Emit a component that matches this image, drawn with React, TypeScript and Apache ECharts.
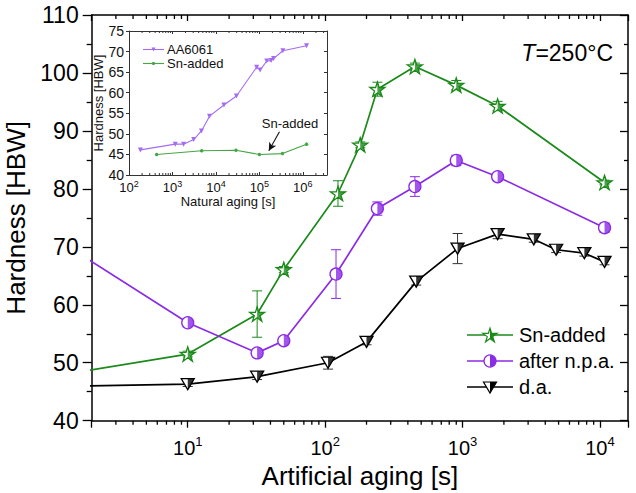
import React, { useEffect, useRef } from 'react';
import * as echarts from 'echarts';

// ---------- data ----------
const snTime = [1, 10, 32, 50, 124, 180, 240, 450, 900, 1800, 10800];
const snHard = [47.6, 51.5, 58.4, 66.1, 79.2, 87.6, 97.2, 101.1, 97.9, 94.3, 81.1];
const snErr = [0, 0.5, 4.0, 0.5, 2.2, 0.5, 1.2, 0.6, 0.8, 0.8, 0.4];

const npaTime = [1, 10, 32, 50, 120, 240, 450, 900, 1800, 10800];
const npaHard = [72.0, 56.9, 51.7, 53.8, 65.3, 76.6, 80.4, 84.9, 82.1, 73.3];
const npaErr = [0, 0.5, 0.5, 0.4, 4.2, 1.15, 1.7, 0.9, 0.4, 0.8];

const daTime = [1, 10, 32, 105, 200, 460, 920, 1800, 3300, 4800, 7700, 10800];
const daHard = [45.9, 46.3, 47.6, 50.0, 53.6, 64.0, 69.7, 72.2, 71.3, 69.5, 68.9, 67.4];
const daErr = [0, 0.4, 0.5, 1.1, 0.5, 0.6, 2.6, 0.8, 0.5, 0.5, 0.5, 0.5];

// inset: natural aging
const aaTime = [183, 1160, 1800, 3080, 4650, 7130, 15300, 29700, 86500, 104000, 148000, 186000, 212000, 347000, 1220000];
const aaHard = [46.1, 47.5, 47.5, 48.6, 50.7, 54.3, 57.0, 59.2, 66.2, 65.5, 67.7, 67.8, 68.3, 70.2, 71.4];
const snNaTime = [433, 4700, 29000, 100000, 340000, 1220000];
const snNaHard = [45.0, 45.9, 46.0, 45.0, 45.2, 47.5];

const legendNames = ['Sn-added', 'after n.p.a.', 'd.a.'];
const insetLegendNames = ['AA6061', 'Sn-added'];

// ---------- styling ----------
const FONT = '"Liberation Sans", Arial, Helvetica, sans-serif';
const GREEN = '#1b8a1b';
const PURPLE = '#8b2be6';
const BLACK = '#000000';
const PURPLE_L = '#a46cf2';
const GREEN_L = '#44a744';

const STAR = 'path://M10,0 L12.245,6.91 L19.51,6.91 L13.63,11.18 L15.88,18.09 L10,13.82 L4.12,18.09 L6.37,11.18 L0.49,6.91 L7.755,6.91 Z';
const STAR_R = 'path://M10,0 L12.245,6.91 L19.51,6.91 L13.63,11.18 L15.88,18.09 L10,13.82 Z';
const CIRC_R = 'path://M0,0 A10,10 0 0,1 0,20 Z';
const TRI = 'path://M0,0 L20,0 L10,17 Z';
const TRI_R = 'path://M10,0 L20,0 L10,17 Z';

const pairs = (xs: number[], ys: number[]) => xs.map((x, i) => [x, ys[i]]);
const errData = (xs: number[], ys: number[], es: number[]) =>
  xs.map((x, i) => [x, ys[i] - es[i], ys[i] + es[i], es[i]]).filter((d) => d[3] > 0);

function minorLog(min: number, max: number) {
  const out: number[] = [];
  for (let k = -1; k < 8; k++) {
    for (let m = 2; m <= 9; m++) {
      const v = m * Math.pow(10, k);
      if (v > min * 1.0001 && v < max * 0.9999) out.push(v);
    }
  }
  return out;
}

const powLabel = (v: number) => {
  const l = Math.log10(v);
  const e = Math.round(l);
  return Math.abs(l - e) < 1e-6 ? `{b|10}{s|${e}}` : '';
};

function errorBars(data: number[][], color: string, xi: number, yi: number, cap: number, lw: number) {
  return {
    type: 'custom',
    xAxisIndex: xi,
    yAxisIndex: yi,
    data,
    clip: true,
    silent: true,
    z: 1,
    encode: { x: 0, y: [1, 2] },
    renderItem: (_p: any, api: any) => {
      const x = api.value(0);
      const lo = api.coord([x, api.value(1)]);
      const hi = api.coord([x, api.value(2)]);
      const st = { stroke: color, lineWidth: lw };
      return {
        type: 'group',
        children: [
          { type: 'line', shape: { x1: lo[0], y1: lo[1], x2: hi[0], y2: hi[1] }, style: st },
          { type: 'line', shape: { x1: hi[0] - cap, y1: hi[1], x2: hi[0] + cap, y2: hi[1] }, style: st },
          { type: 'line', shape: { x1: lo[0] - cap, y1: lo[1], x2: lo[0] + cap, y2: lo[1] }, style: st },
        ],
      };
    },
  };
}

function minorTickSeries(values: number[], xi: number, yi: number, yBottom: number, yTop: number, len: number, bottomOut: boolean, color: string, lw: number) {
  return {
    type: 'custom',
    xAxisIndex: xi,
    yAxisIndex: yi,
    data: values.map((v) => [v, yBottom]),
    silent: true,
    clip: false,
    z: 6,
    encode: { x: 0, y: 1 },
    renderItem: (_p: any, api: any) => {
      const v = api.value(0);
      const b = api.coord([v, yBottom]);
      const t = api.coord([v, yTop]);
      const st = { stroke: color, lineWidth: lw };
      return {
        type: 'group',
        children: [
          { type: 'line', shape: { x1: b[0], y1: b[1], x2: b[0], y2: bottomOut ? b[1] + len : b[1] - len }, style: st },
          { type: 'line', shape: { x1: t[0], y1: t[1], x2: t[0], y2: t[1] + len }, style: st },
        ],
      };
    },
  };
}

function mainSeries(name: string, xs: number[], ys: number[], color: string, sym: string, size: number[], half: string, halfSize: number[], halfOff: number[]) {
  const d = pairs(xs, ys);
  return [
    {
      name,
      type: 'line',
      xAxisIndex: 0,
      yAxisIndex: 0,
      data: d,
      clip: true,
      z: 2,
      symbol: sym,
      symbolSize: size,
      showAllSymbol: true,
      lineStyle: { color, width: 1.7 },
      itemStyle: { color: '#ffffff', borderColor: color, borderWidth: 1.3 },
    },
    {
      name: name + ' fill',
      type: 'scatter',
      xAxisIndex: 0,
      yAxisIndex: 0,
      data: d,
      clip: true,
      silent: true,
      z: 3,
      symbol: half,
      symbolSize: halfSize,
      symbolOffset: halfOff,
      itemStyle: { color },
    },
  ];
}

function starPoints(cx: number, cy: number, R: number) {
  const pts: number[][] = [];
  for (let i = 0; i < 10; i++) {
    const r = i % 2 === 0 ? R : R * 0.382;
    const a = (i * 36 * Math.PI) / 180;
    pts.push([cx + r * Math.sin(a), cy - r * Math.cos(a) + R * 0.1]);
  }
  return pts;
}

function buildLegend() {
  const els: any[] = [];
  const x0 = 467, x1 = 513, xm = 490, tx = 519;
  const rows = [335, 361, 387];
  const cols = [GREEN, PURPLE, BLACK];
  rows.forEach((y, i) => {
    els.push({ type: 'line', shape: { x1: x0, y1: y, x2: x1, y2: y }, style: { stroke: cols[i], lineWidth: 1.7 }, z: 10 });
    els.push({
      type: 'text', x: tx, y, z: 10,
      style: { text: legendNames[i], fill: '#000', font: `20px ${FONT}`, verticalAlign: 'middle', align: 'left' },
    });
  });
  // star
  const sp = starPoints(xm, rows[0], 7.5);
  els.push({ type: 'polygon', shape: { points: sp }, style: { fill: '#fff', stroke: GREEN, lineWidth: 1.2 }, z: 11 });
  els.push({ type: 'polygon', shape: { points: [sp[0], sp[1], sp[2], sp[3], sp[4], sp[5]] }, style: { fill: GREEN }, z: 12 });
  // circle
  els.push({ type: 'circle', shape: { cx: xm, cy: rows[1], r: 6 }, style: { fill: '#fff', stroke: PURPLE, lineWidth: 1.3 }, z: 11 });
  els.push({ type: 'sector', shape: { cx: xm, cy: rows[1], r: 6, r0: 0, startAngle: -Math.PI / 2, endAngle: Math.PI / 2, clockwise: true }, style: { fill: PURPLE }, z: 12 });
  // triangle
  const ty = rows[2];
  els.push({ type: 'polygon', shape: { points: [[xm - 6.5, ty - 5], [xm + 6.5, ty - 5], [xm, ty + 6]] }, style: { fill: '#fff', stroke: BLACK, lineWidth: 1.2 }, z: 11 });
  els.push({ type: 'polygon', shape: { points: [[xm, ty - 5], [xm + 6.5, ty - 5], [xm, ty + 6]] }, style: { fill: BLACK }, z: 12 });

  // inset legend
  const irows = [49.5, 63.5];
  const icols = [PURPLE_L, GREEN_L];
  irows.forEach((y, i) => {
    els.push({ type: 'line', shape: { x1: 143, y1: y, x2: 164, y2: y }, style: { stroke: icols[i], lineWidth: 1.1 }, z: 10 });
    els.push({
      type: 'text', x: 167, y, z: 10,
      style: { text: insetLegendNames[i], fill: '#111', font: `13px ${FONT}`, verticalAlign: 'middle', align: 'left' },
    });
  });
  els.push({ type: 'polygon', shape: { points: [[151.5, 47.5], [155.5, 47.5], [153.5, 51.5]] }, style: { fill: PURPLE_L }, z: 11 });
  els.push({ type: 'circle', shape: { cx: 153.5, cy: 63.5, r: 1.6 }, style: { fill: GREEN_L }, z: 11 });

  // temperature label
  els.push({
    type: 'text', x: 613, y: 53, z: 10,
    style: {
      text: '{i|T}{n|=250°C}',
      align: 'right',
      verticalAlign: 'middle',
      rich: {
        i: { fontSize: 23, fontStyle: 'italic', fontFamily: FONT, fill: '#000' },
        n: { fontSize: 23, fontFamily: FONT, fill: '#000' },
      },
    },
  });
  // inset annotation
  els.push({
    type: 'text', x: 290, y: 123, z: 10,
    style: { text: 'Sn-added', fill: '#111', font: `13px ${FONT}`, align: 'center', verticalAlign: 'middle' },
  });
  return els;
}

function buildOption() {
  const axisLine = { show: true, onZero: false, lineStyle: { color: '#000', width: 1.5 } };
  const tickStyle = { color: '#000', width: 1.3 };
  const insetLine = { show: true, onZero: false, lineStyle: { color: '#333', width: 1 } };
  const insetTick = { color: '#333', width: 1 };

  const mainXMin = 2, mainXMax = 16000;
  const inXMin = 100, inXMax = 3.6e6;

  return {
    animation: false,
    backgroundColor: '#ffffff',
    textStyle: { fontFamily: FONT },
    grid: [
      { left: 91.7, right: 8, top: 15, bottom: 72.3, containLabel: false, outerBoundsMode: 'none' },
      { left: 129, right: 309, top: 31, bottom: 318, containLabel: false, outerBoundsMode: 'none' },
    ],
    xAxis: [
      {
        gridIndex: 0, type: 'log', logBase: 10, min: mainXMin, max: mainXMax, position: 'bottom',
        axisLine, axisTick: { show: true, inside: false, length: 7, lineStyle: tickStyle },
        splitLine: { show: false },
        axisLabel: {
          show: true, margin: 14, color: '#000', formatter: powLabel,
          rich: {
            b: { fontSize: 20, fontFamily: FONT, color: '#000', verticalAlign: 'bottom' },
            s: { fontSize: 13, fontFamily: FONT, color: '#000', verticalAlign: 'bottom', padding: [0, 0, 10, 0] },
          },
        },
        name: 'Artificial aging [s]', nameLocation: 'middle', nameGap: 42,
        nameTextStyle: { fontSize: 26, color: '#000', fontFamily: FONT },
      },
      {
        gridIndex: 0, type: 'log', logBase: 10, min: mainXMin, max: mainXMax, position: 'top',
        axisLine, axisTick: { show: true, inside: true, length: 6, lineStyle: tickStyle },
        splitLine: { show: false }, axisLabel: { show: false },
      },
      {
        gridIndex: 1, type: 'log', logBase: 10, min: inXMin, max: inXMax, position: 'bottom',
        axisLine: insetLine, axisTick: { show: true, inside: true, length: 3, lineStyle: insetTick },
        splitLine: { show: false },
        axisLabel: {
          show: true, margin: 4, color: '#111', formatter: powLabel,
          rich: {
            b: { fontSize: 13, fontFamily: FONT, color: '#111', verticalAlign: 'bottom' },
            s: { fontSize: 9, fontFamily: FONT, color: '#111', verticalAlign: 'bottom', padding: [0, 0, 6, 0] },
          },
        },
        name: 'Natural aging [s]', nameLocation: 'middle', nameGap: 20,
        nameTextStyle: { fontSize: 13, color: '#111', fontFamily: FONT },
      },
      {
        gridIndex: 1, type: 'log', logBase: 10, min: inXMin, max: inXMax, position: 'top',
        axisLine: insetLine, axisTick: { show: true, inside: true, length: 3, lineStyle: insetTick },
        splitLine: { show: false }, axisLabel: { show: false },
      },
    ],
    yAxis: [
      {
        gridIndex: 0, type: 'value', min: 40, max: 110, interval: 10, position: 'left',
        axisLine, axisTick: { show: true, inside: false, length: 9, lineStyle: tickStyle },
        minorTick: { show: true, splitNumber: 2, length: 5, lineStyle: tickStyle },
        splitLine: { show: false }, minorSplitLine: { show: false },
        axisLabel: { show: true, fontSize: 23, margin: 13, color: '#000', fontFamily: FONT },
        name: 'Hardness [HBW]', nameLocation: 'middle', nameGap: 51,
        nameTextStyle: { fontSize: 26, color: '#000', fontFamily: FONT },
      },
      {
        gridIndex: 0, type: 'value', min: 40, max: 110, interval: 10, position: 'right',
        axisLine, axisTick: { show: true, inside: true, length: 8, lineStyle: tickStyle },
        minorTick: { show: true, splitNumber: 2, length: 4, lineStyle: tickStyle },
        splitLine: { show: false }, axisLabel: { show: false },
      },
      {
        gridIndex: 1, type: 'value', min: 40, max: 75, interval: 5, position: 'left',
        axisLine: insetLine, axisTick: { show: true, inside: false, length: 3, lineStyle: insetTick },
        splitLine: { show: false },
        axisLabel: { show: true, fontSize: 14, margin: 5, color: '#111', fontFamily: FONT },
        name: 'Hardness [HBW]', nameLocation: 'middle', nameGap: 19,
        nameTextStyle: { fontSize: 13, color: '#111', fontFamily: FONT },
      },
      {
        gridIndex: 1, type: 'value', min: 40, max: 75, interval: 5, position: 'right',
        axisLine: insetLine, axisTick: { show: true, inside: true, length: 3, lineStyle: insetTick },
        splitLine: { show: false }, axisLabel: { show: false },
      },
    ],
    graphic: { elements: buildLegend() },
    series: [
      errorBars(errData(snTime, snHard, snErr), GREEN, 0, 0, 5, 1),
      errorBars(errData(npaTime, npaHard, npaErr), PURPLE, 0, 0, 5, 1),
      errorBars(errData(daTime, daHard, daErr), '#333', 0, 0, 5, 1),
      ...mainSeries(legendNames[0], snTime, snHard, GREEN, STAR, [15, 14.3], STAR_R, [7.5, 14.3], [3.75, 0]),
      ...mainSeries(legendNames[1], npaTime, npaHard, PURPLE, 'circle', [12, 12], CIRC_R, [6, 12], [3, 0]),
      ...mainSeries(legendNames[2], daTime, daHard, BLACK, TRI, [13, 11], TRI_R, [6.5, 11], [3.25, 0]),
      minorTickSeries(minorLog(mainXMin, mainXMax), 0, 0, 40, 110, 4, true, '#000', 1.3),
      minorTickSeries(minorLog(inXMin, inXMax), 2, 2, 40, 75, 2, false, '#333', 1),
      {
        name: 'AA6061', type: 'line', xAxisIndex: 2, yAxisIndex: 2, data: pairs(aaTime, aaHard),
        symbol: 'triangle', symbolRotate: 180, symbolSize: 5, showAllSymbol: true,
        lineStyle: { color: PURPLE_L, width: 1.1 }, itemStyle: { color: PURPLE_L }, z: 4,
      },
      {
        name: 'Sn-added NA', type: 'line', xAxisIndex: 2, yAxisIndex: 2, data: pairs(snNaTime, snNaHard),
        symbol: 'circle', symbolSize: 3.5, showAllSymbol: true,
        lineStyle: { color: GREEN_L, width: 1.1 }, itemStyle: { color: GREEN_L }, z: 4,
        markLine: {
          silent: true, symbol: ['none', 'arrow'], symbolSize: [6, 8],
          lineStyle: { color: '#111', width: 1.1, type: 'solid' }, label: { show: false },
          data: [[{ coord: [2.9e5, 50.5] }, { coord: [1.65e5, 45.9] }]],
        },
      },
    ],
  };
}

export default function App() {
  const ref = useRef<HTMLDivElement>(null);
  useEffect(() => {
    if (!ref.current) return;
    const chart = echarts.init(ref.current, null, { renderer: 'svg' });
    chart.setOption(buildOption() as any);
    return () => chart.dispose();
  }, []);
  return (
    <div
      ref={ref}
      style={{ position: 'fixed', left: 0, top: 0, width: 636, height: 493, background: '#ffffff' }}
    />
  );
}
